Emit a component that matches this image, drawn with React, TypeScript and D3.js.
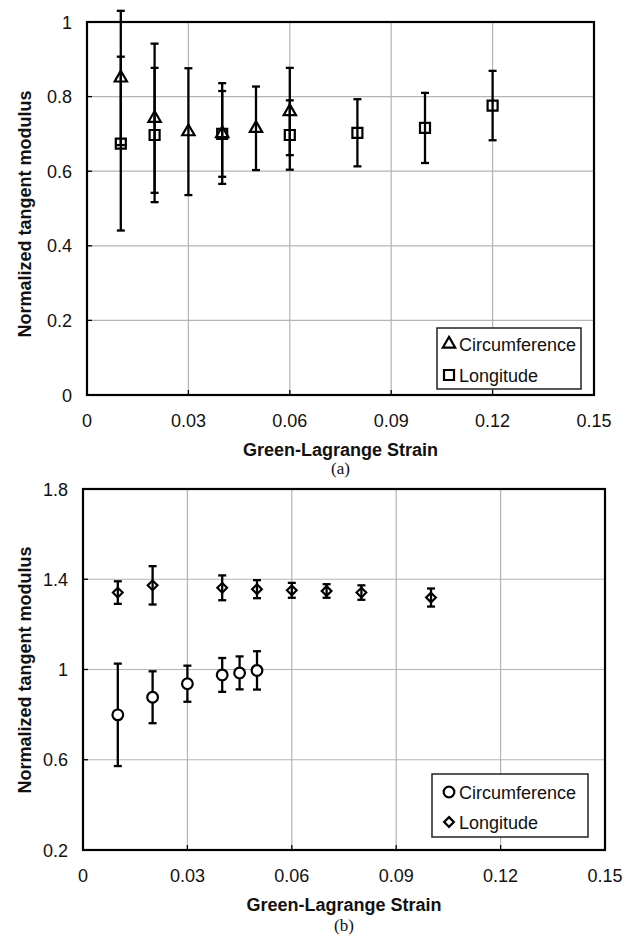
import React from "react";
import * as d3 from "d3";

// ---- Data: panel (a) ----
const aCircX = [0.01, 0.02, 0.03, 0.04, 0.05, 0.06];
const aCircY = [0.85, 0.742, 0.706, 0.701, 0.715, 0.76];
const aCircErr = [0.18, 0.2, 0.17, 0.135, 0.112, 0.117];
const aLongX = [0.01, 0.02, 0.04, 0.06, 0.08, 0.1, 0.12];
const aLongY = [0.674, 0.697, 0.7, 0.697, 0.703, 0.716, 0.776];
const aLongErr = [0.233, 0.18, 0.115, 0.093, 0.09, 0.094, 0.093];
const aYTicks = [0, 0.2, 0.4, 0.6, 0.8, 1];

// ---- Data: panel (b) ----
const bCircX = [0.01, 0.02, 0.03, 0.04, 0.045, 0.05];
const bCircY = [0.799, 0.877, 0.937, 0.976, 0.985, 0.996];
const bCircErr = [0.227, 0.115, 0.08, 0.075, 0.073, 0.085];
const bLongX = [0.01, 0.02, 0.04, 0.05, 0.06, 0.07, 0.08, 0.1];
const bLongY = [1.341, 1.373, 1.362, 1.356, 1.351, 1.348, 1.341, 1.319];
const bLongErr = [0.05, 0.085, 0.055, 0.04, 0.033, 0.03, 0.032, 0.04];
const bYTicks = [0.2, 0.6, 1, 1.4, 1.8];

const xTicks = [0, 0.03, 0.06, 0.09, 0.12, 0.15];
const seriesNames = ["Circumference", "Longitude"];
const xTitle = "Green-Lagrange Strain";
const yTitle = "Normalized tangent modulus";

const FONT = "'Liberation Sans', Arial, Helvetica, sans-serif";
const FS = 18;

type Series = { xs: number[]; ys: number[]; errs: number[]; symbol: any; size: number; fill: string };

type PanelProps = {
  left: number; right: number; top: number; bottom: number;
  yDomain: [number, number]; yTicks: number[];
  series: Series[];
  yLabelRight: number; xTickBase: number; xTitleBase: number; capBase: number; caption: string;
  yTitleX: number; yTitleY: number;
  legend: { x0: number; x1: number; y0: number; y1: number; mx: number; my: number[]; tx: number };
};

function Panel(p: PanelProps) {
  const x = d3.scaleLinear().domain([0, 0.15]).range([p.left, p.right]);
  const y = d3.scaleLinear().domain(p.yDomain).range([p.bottom, p.top]);
  const cx = (p.left + p.right) / 2;
  return (
    <g>
      {xTicks.slice(1, -1).map((t) => (
        <line key={"gx" + t} x1={x(t)} x2={x(t)} y1={p.top} y2={p.bottom} stroke="#b5b5b5" strokeWidth={1.2} />
      ))}
      {p.yTicks.slice(1, -1).map((t) => (
        <line key={"gy" + t} x1={p.left} x2={p.right} y1={y(t)} y2={y(t)} stroke="#b5b5b5" strokeWidth={1.2} />
      ))}
      {xTicks.map((t) => (
        <line key={"tx" + t} x1={x(t)} x2={x(t)} y1={p.bottom} y2={p.bottom - 5} stroke="#000" strokeWidth={1.3} />
      ))}
      {p.yTicks.map((t) => (
        <line key={"ty" + t} x1={p.left} x2={p.left + 5} y1={y(t)} y2={y(t)} stroke="#000" strokeWidth={1.3} />
      ))}
      <rect x={p.left} y={p.top} width={p.right - p.left} height={p.bottom - p.top} fill="none" stroke="#000" strokeWidth={2.2} />
      {xTicks.map((t) => (
        <text key={"lx" + t} x={x(t)} y={p.xTickBase} textAnchor="middle" fontSize={FS} fontFamily={FONT} fill="#111">
          {String(+t.toFixed(2))}
        </text>
      ))}
      {p.yTicks.map((t) => (
        <text key={"ly" + t} x={p.yLabelRight} y={y(t) + 6.5} textAnchor="end" fontSize={FS} fontFamily={FONT} fill="#111">
          {String(+t.toFixed(1))}
        </text>
      ))}
      <text x={cx} y={p.xTitleBase} textAnchor="middle" fontSize={FS} fontWeight="bold" fontFamily={FONT} fill="#111">
        {xTitle}
      </text>
      <text x={cx} y={p.capBase} textAnchor="middle" fontSize={17} fontFamily="'Liberation Serif', 'Times New Roman', serif" fill="#111">
        {p.caption}
      </text>
      <text
        transform={`translate(${p.yTitleX},${p.yTitleY}) rotate(-90)`}
        textAnchor="middle" fontSize={FS} fontWeight="bold" fontFamily={FONT} fill="#111"
      >
        {yTitle}
      </text>
      {p.series.map((s, si) => {
        const path = d3.symbol().type(s.symbol).size(s.size)() as string;
        return (
          <g key={"s" + si}>
            {s.xs.map((xv, i) => {
              const px = x(xv);
              const yt = y(s.ys[i] + s.errs[i]);
              const yb = y(s.ys[i] - s.errs[i]);
              return (
                <g key={i}>
                  <line x1={px} x2={px} y1={yt} y2={yb} stroke="#000" strokeWidth={2.3} />
                  <line x1={px - 4} x2={px + 4} y1={yt} y2={yt} stroke="#000" strokeWidth={2.3} />
                  <line x1={px - 4} x2={px + 4} y1={yb} y2={yb} stroke="#000" strokeWidth={2.3} />
                </g>
              );
            })}
            {s.xs.map((xv, i) => (
              <path key={"m" + i} d={path} transform={`translate(${x(xv)},${y(s.ys[i])})`} fill={s.fill} stroke="#000" strokeWidth={2.2} />
            ))}
          </g>
        );
      })}
      <rect x={p.legend.x0} y={p.legend.y0} width={p.legend.x1 - p.legend.x0} height={p.legend.y1 - p.legend.y0} fill="#fff" stroke="#222" strokeWidth={1.5} />
      {p.series.map((s, si) => {
        const path = d3.symbol().type(s.symbol).size(s.size)() as string;
        return (
          <g key={"lg" + si}>
            <path d={path} transform={`translate(${p.legend.mx},${p.legend.my[si]})`} fill={s.fill} stroke="#000" strokeWidth={2.2} />
            <text x={p.legend.tx} y={p.legend.my[si] + 6.5} fontSize={FS} fontFamily={FONT} fill="#111">
              {seriesNames[si]}
            </text>
          </g>
        );
      })}
    </g>
  );
}

export default function App() {
  const triangle = d3.symbolTriangle;
  const square = d3.symbolSquare;
  const circle = d3.symbolCircle;
  const diamond = (d3 as any).symbolDiamond2 || d3.symbolDiamond;
  return (
    <svg width={630} height={939} style={{ position: "absolute", left: 0, top: 0, background: "#fff" }}>
      <rect x={0} y={0} width={630} height={939} fill="#fff" />
      <Panel
        left={87} right={594} top={22} bottom={395}
        yDomain={[0, 1]} yTicks={aYTicks}
        series={[
          { xs: aCircX, ys: aCircY, errs: aCircErr, symbol: triangle, size: 66, fill: "none" },
          { xs: aLongX, ys: aLongY, errs: aLongErr, symbol: square, size: 100, fill: "none" },
        ]}
        yLabelRight={72} xTickBase={427} xTitleBase={456} capBase={474} caption="(a)"
        yTitleX={31} yTitleY={214}
        legend={{ x0: 437, x1: 581, y0: 328, y1: 389, mx: 449, my: [344, 375], tx: 459 }}
      />
      <Panel
        left={83} right={605} top={489} bottom={850}
        yDomain={[0.2, 1.8]} yTicks={bYTicks}
        series={[
          { xs: bCircX, ys: bCircY, errs: bCircErr, symbol: circle, size: 90, fill: "#fff" },
          { xs: bLongX, ys: bLongY, errs: bLongErr, symbol: diamond, size: 60, fill: "none" },
        ]}
        yLabelRight={68} xTickBase={882} xTitleBase={911} capBase={931} caption="(b)"
        yTitleX={31} yTitleY={670}
        legend={{ x0: 432, x1: 588, y0: 774, y1: 837, mx: 449, my: [792, 822], tx: 459 }}
      />
    </svg>
  );
}
